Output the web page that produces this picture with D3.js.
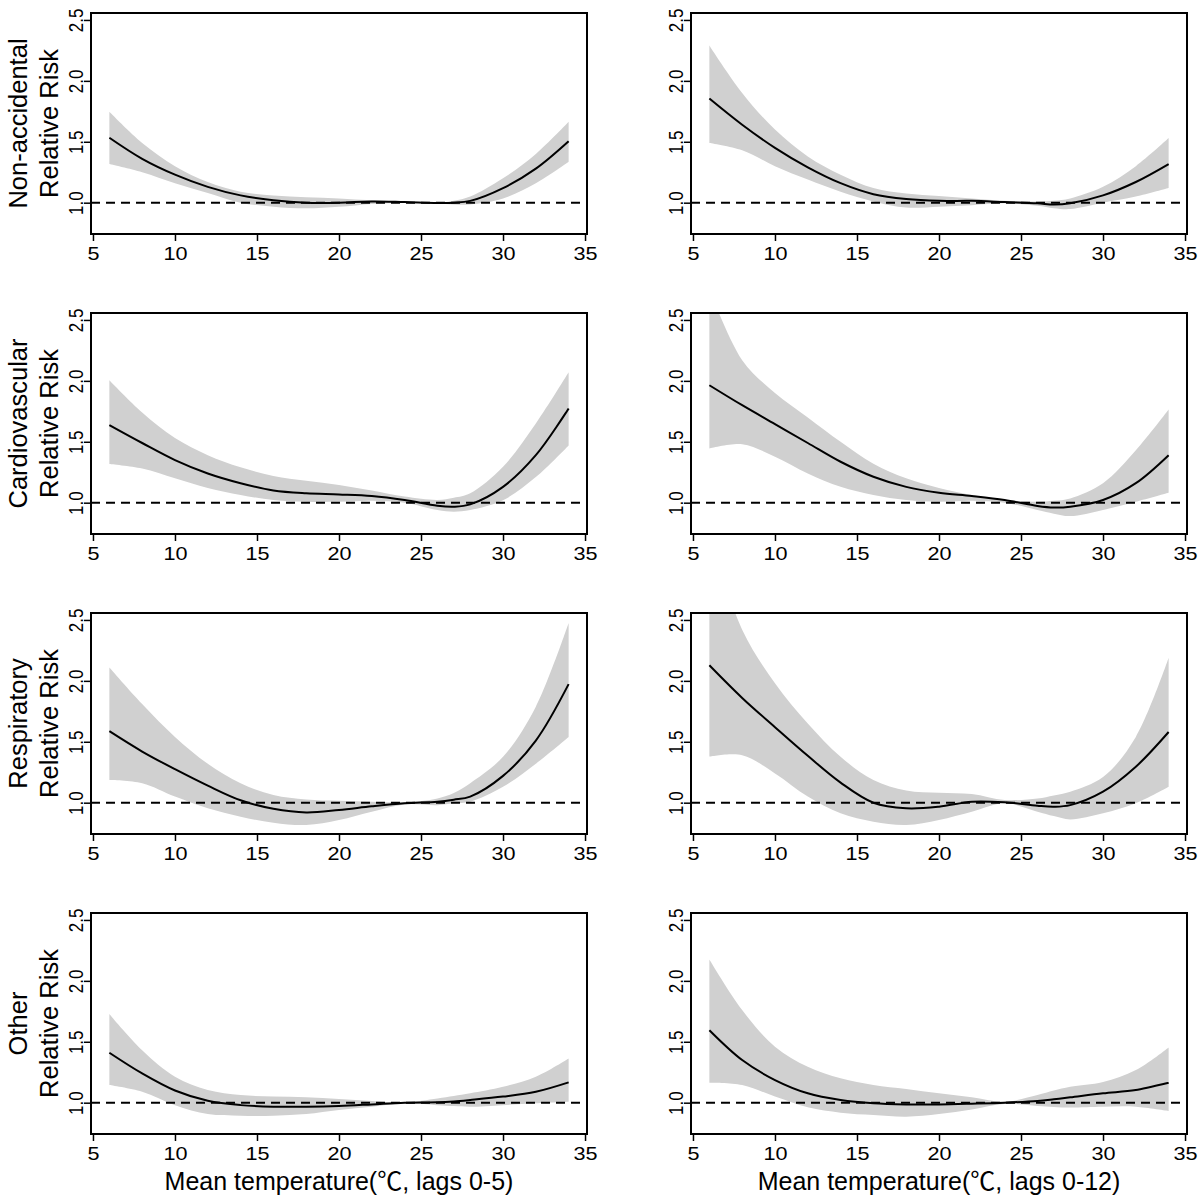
<!DOCTYPE html>
<html>
<head>
<meta charset="utf-8">
<script src="https://cdn.jsdelivr.net/npm/d3@7/dist/d3.min.js"></script>
<style>
  body { margin: 0; background: #fff; }
  svg { display: block; font-family: "Liberation Sans", Arial, sans-serif; }
</style>
</head>
<body>
<svg id="chart" width="1200" height="1200"></svg>
<script>
// ---- data ----
const temps = [6, 8, 10, 12, 14, 16, 18, 20, 22, 24, 26, 27, 28, 30, 32, 34];
const xTicks = [5, 10, 15, 20, 25, 30, 35];
const yTicks = [1.0, 1.5, 2.0, 2.5];
const causes = ["Non-accidental", "Cardiovascular", "Respiratory", "Other"];
const lagPrefix = "Mean temperature(";
const degSymbol = "\u2103";
const lagSuffixes = [", lags 0-5)", ", lags 0-12)"];

// Non-accidental
const nonacc05_rr = [1.533, 1.36, 1.23, 1.13, 1.06, 1.02, 1.0, 1.0, 1.01, 1.005, 0.998, 1.0, 1.015, 1.12, 1.28, 1.505];
const nonacc05_hi = [1.746, 1.49, 1.30, 1.17, 1.09, 1.06, 1.045, 1.035, 1.02, 1.01, 1.0, 1.015, 1.05, 1.2, 1.40, 1.664];
const nonacc05_lo = [1.317, 1.25, 1.16, 1.08, 1.0, 0.967, 0.954, 0.967, 0.99, 1.0, 0.995, 0.985, 0.986, 1.035, 1.16, 1.336];
const nonacc012_rr = [1.855, 1.64, 1.45, 1.29, 1.16, 1.07, 1.03, 1.015, 1.015, 1.005, 0.995, 0.985, 0.995, 1.06, 1.17, 1.317];
const nonacc012_hi = [2.29, 1.90, 1.60, 1.38, 1.23, 1.12, 1.075, 1.055, 1.035, 1.015, 1.01, 1.015, 1.035, 1.13, 1.30, 1.53];
const nonacc012_lo = [1.49, 1.43, 1.30, 1.19, 1.09, 1.01, 0.96, 0.967, 0.98, 0.995, 0.975, 0.955, 0.948, 1.0, 1.05, 1.12];
// Cardiovascular
const cardio05_rr = [1.637, 1.49, 1.35, 1.24, 1.16, 1.10, 1.077, 1.068, 1.055, 1.022, 0.975, 0.967, 0.986, 1.13, 1.39, 1.773];
const cardio05_hi = [2.005, 1.74, 1.53, 1.39, 1.29, 1.22, 1.18, 1.145, 1.10, 1.05, 1.022, 1.04, 1.077, 1.295, 1.65, 2.07];
const cardio05_lo = [1.317, 1.28, 1.20, 1.12, 1.063, 1.022, 1.008, 1.008, 1.016, 1.0, 0.94, 0.926, 0.94, 1.02, 1.21, 1.47];
const cardio012_rr = [1.964, 1.80, 1.645, 1.49, 1.336, 1.213, 1.13, 1.082, 1.055, 1.022, 0.973, 0.96, 0.967, 1.022, 1.16, 1.39];
const cardio012_hi = [2.75, 2.17, 1.90, 1.70, 1.50, 1.32, 1.20, 1.12, 1.063, 1.022, 1.008, 1.015, 1.035, 1.16, 1.43, 1.765];
const cardio012_lo = [1.445, 1.48, 1.377, 1.24, 1.13, 1.063, 1.022, 1.008, 1.016, 1.0, 0.94, 0.91, 0.89, 0.94, 1.008, 1.082];
// Respiratory
const resp05_rr = [1.587, 1.42, 1.275, 1.14, 1.02, 0.95, 0.92, 0.94, 0.97, 0.995, 1.008, 1.025, 1.05, 1.22, 1.51, 1.973];
const resp05_hi = [2.11, 1.81, 1.54, 1.32, 1.16, 1.063, 1.027, 1.016, 1.008, 1.003, 1.035, 1.08, 1.16, 1.377, 1.787, 2.475];
const resp05_lo = [1.186, 1.16, 1.05, 0.954, 0.885, 0.836, 0.817, 0.858, 0.926, 0.986, 0.98, 0.995, 1.008, 1.13, 1.32, 1.54];
const resp012_rr = [2.128, 1.86, 1.62, 1.385, 1.165, 1.0, 0.954, 0.967, 1.008, 1.003, 0.975, 0.967, 0.98, 1.09, 1.295, 1.58];
const resp012_hi = [3.2, 2.42, 1.98, 1.65, 1.377, 1.186, 1.10, 1.082, 1.071, 1.022, 1.035, 1.06, 1.09, 1.21, 1.54, 2.19];
const resp012_lo = [1.377, 1.39, 1.24, 1.05, 0.913, 0.844, 0.817, 0.858, 0.926, 0.995, 0.926, 0.89, 0.863, 0.913, 0.995, 1.13];
// Other
const other05_rr = [1.41, 1.24, 1.10, 1.016, 0.98, 0.967, 0.967, 0.973, 0.986, 1.0, 1.003, 1.01, 1.022, 1.05, 1.09, 1.167];
const other05_hi = [1.727, 1.43, 1.213, 1.104, 1.063, 1.05, 1.044, 1.03, 1.014, 1.003, 1.035, 1.055, 1.077, 1.13, 1.213, 1.363];
const other05_lo = [1.145, 1.09, 0.98, 0.907, 0.893, 0.893, 0.907, 0.94, 0.967, 0.995, 0.98, 0.972, 0.967, 0.98, 0.995, 1.008];
const other012_rr = [1.595, 1.35, 1.186, 1.077, 1.022, 0.995, 0.986, 0.986, 0.992, 1.0, 1.014, 1.028, 1.044, 1.077, 1.104, 1.164];
const other012_hi = [2.175, 1.76, 1.46, 1.295, 1.20, 1.145, 1.112, 1.077, 1.044, 1.008, 1.063, 1.10, 1.13, 1.17, 1.268, 1.454];
const other012_lo = [1.164, 1.145, 1.05, 0.962, 0.918, 0.899, 0.885, 0.907, 0.945, 0.99, 0.973, 0.965, 0.96, 0.967, 0.967, 0.932];

const panels = [
  [nonacc05_rr, nonacc05_lo, nonacc05_hi], [nonacc012_rr, nonacc012_lo, nonacc012_hi],
  [cardio05_rr, cardio05_lo, cardio05_hi], [cardio012_rr, cardio012_lo, cardio012_hi],
  [resp05_rr, resp05_lo, resp05_hi],       [resp012_rr, resp012_lo, resp012_hi],
  [other05_rr, other05_lo, other05_hi],    [other012_rr, other012_lo, other012_hi]
];

// ---- layout ----
const boxL = 91, boxT = 13, boxW = 496, boxH = 221;
const colStep = 600, rowStep = 300;
const xDomain = [4.88, 35.12];
const yDomain = [0.743, 2.557];
const fontXTick = 18.5, fontYTick = 17, fontTitle = 25, fontYTitle = 25.5;
const FONT = "Liberation Sans, Arial, sans-serif";

const svg = d3.select("#chart");

panels.forEach((p, i) => {
  const row = Math.floor(i / 2), col = i % 2;
  const ox = boxL + col * colStep, oy = boxT + row * rowStep;
  const x = d3.scaleLinear().domain(xDomain).range([ox, ox + boxW]);
  const y = d3.scaleLinear().domain(yDomain).range([oy + boxH, oy]);
  const [rr, lo, hi] = p;
  const data = temps.map((t, k) => ({ t, rr: rr[k], lo: lo[k], hi: hi[k] }));

  const clipId = "clip" + i;
  svg.append("clipPath").attr("id", clipId)
    .append("rect").attr("x", ox).attr("y", oy).attr("width", boxW).attr("height", boxH);

  const g = svg.append("g");
  const curve = d3.curveCatmullRom.alpha(0.5);
  const area = d3.area().x(d => x(d.t)).y0(d => y(d.lo)).y1(d => y(d.hi)).curve(curve);
  g.append("path").datum(data).attr("d", area).attr("fill", "#d0d0d0").attr("clip-path", `url(#${clipId})`);

  // reference line at RR = 1
  g.append("line").attr("x1", ox).attr("x2", ox + boxW).attr("y1", y(1)).attr("y2", y(1))
    .attr("stroke", "#000").attr("stroke-width", 2).attr("stroke-dasharray", "9,6");

  const line = d3.line().x(d => x(d.t)).y(d => y(d.rr)).curve(curve);
  g.append("path").datum(data).attr("d", line).attr("fill", "none").attr("stroke", "#000")
    .attr("stroke-width", 2).attr("clip-path", `url(#${clipId})`);

  // box
  g.append("rect").attr("x", ox).attr("y", oy).attr("width", boxW).attr("height", boxH)
    .attr("fill", "none").attr("stroke", "#000").attr("stroke-width", 2);

  // x axis
  const xa = g.append("g").attr("transform", `translate(0,${oy + boxH})`)
    .call(d3.axisBottom(x).tickValues(xTicks).tickSize(7).tickPadding(6).tickFormat(d3.format("d")));
  xa.select(".domain").remove();
  xa.selectAll(".tick line").attr("stroke", "#000").attr("stroke-width", 1.5);
  xa.selectAll(".tick text").attr("font-size", fontXTick).attr("fill", "#000").attr("font-family", FONT)
    .attr("transform", "scale(1.17,1)");

  // y axis
  const ya = g.append("g").attr("transform", `translate(${ox},0)`)
    .call(d3.axisLeft(y).tickValues(yTicks).tickSize(7).tickFormat(d3.format(".1f")));
  ya.select(".domain").remove();
  ya.selectAll(".tick line").attr("stroke", "#000").attr("stroke-width", 1.5);
  ya.selectAll(".tick text")
    .attr("font-size", fontYTick).attr("fill", "#000").attr("font-family", FONT)
    .attr("x", null).attr("dy", null)
    .attr("text-anchor", "middle")
    .attr("transform", "translate(-8,0) rotate(-90) scale(1,1.15)");

  // y titles (left column only)
  if (col === 0) {
    const cy = oy + boxH / 2;
    svg.append("text").attr("transform", `translate(27,${cy}) rotate(-90)`)
      .attr("text-anchor", "middle").attr("font-size", fontYTitle).text(causes[row]);
    svg.append("text").attr("transform", `translate(58,${cy}) rotate(-90)`)
      .attr("text-anchor", "middle").attr("font-size", fontYTitle).text("Relative Risk");
  }
  // x titles (bottom row only)
  if (row === 3) {
    const t = svg.append("text").attr("x", ox + boxW / 2).attr("y", oy + boxH + 56)
      .attr("text-anchor", "middle").attr("font-size", fontTitle);
    t.append("tspan").text(lagPrefix);
    t.append("tspan").attr("font-family", "Noto Sans CJK SC").text(degSymbol);
    t.append("tspan").text(lagSuffixes[col]);
  }
});
</script>
</body>
</html>
